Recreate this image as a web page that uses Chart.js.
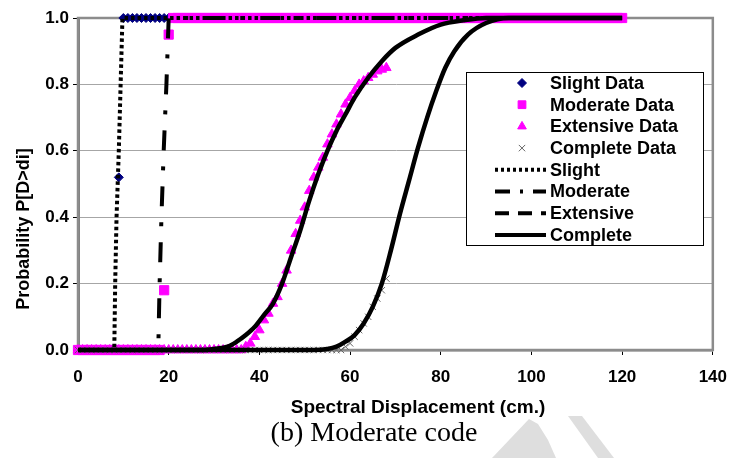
<!DOCTYPE html>
<html>
<head>
    <title>Fragility curves - Moderate code</title>
    <style type="text/css">
        body { margin: 0; background: #ffffff; }
        #chart-container { width: 739px; height: 458px; }
        #mycanvas { display: block; }
    </style>
</head>
<body>
    <div id="chart-container">
        <canvas id="mycanvas" width="739" height="458"></canvas>
    </div>

    <script type="text/javascript" src="https://cdn.jsdelivr.net/npm/chart.js@4.4.0/dist/chart.umd.min.js"></script>
    <script>
        // observed exceedance probabilities, one value per cm of displacement (starting at 0 cm)
        var slightData = [
            0, 0, 0, 0, 0, 0, 0, 0, 0, 0.52,
            1, 1, 1, 1, 1, 1, 1, 1, 1, 1, 1
        ];
        var moderateData = [
            0, 0, 0, 0, 0, 0, 0, 0, 0, 0,
            0, 0, 0, 0, 0, 0, 0, 0, 0, 0.18,
            0.95, 1, 1, 1, 1, 1, 1, 1, 1, 1,
            1, 1, 1, 1, 1, 1, 1, 1, 1, 1,
            1, 1, 1, 1, 1, 1, 1, 1, 1, 1,
            1, 1, 1, 1, 1, 1, 1, 1, 1, 1,
            1, 1, 1, 1, 1, 1, 1, 1, 1, 1,
            1, 1, 1, 1, 1, 1, 1, 1, 1, 1,
            1, 1, 1, 1, 1, 1, 1, 1, 1, 1,
            1, 1, 1, 1, 1, 1, 1, 1, 1, 1,
            1, 1, 1, 1, 1, 1, 1, 1, 1, 1,
            1, 1, 1, 1, 1, 1, 1, 1, 1, 1,
            1
        ];
        var extensiveData = [
            0, 0, 0, 0, 0, 0, 0, 0, 0, 0,
            0, 0, 0, 0, 0, 0, 0, 0, 0, 0,
            0, 0, 0, 0, 0, 0, 0, 0, 0, 0,
            0, 0, 0, 0, 0, 0, 0, 0.01, 0.02, 0.04,
            0.06, 0.09, 0.11, 0.14, 0.16, 0.20, 0.24, 0.30, 0.35, 0.39,
            0.43, 0.48, 0.52, 0.55, 0.58, 0.62, 0.65, 0.68, 0.71, 0.74,
            0.76, 0.78, 0.80, 0.81, 0.82, 0.83, 0.84, 0.845, 0.85
        ];
        var completeData = [
            0, 0, 0, 0, 0, 0, 0, 0, 0, 0,
            0, 0, 0, 0, 0, 0, 0, 0, 0, 0,
            0, 0, 0, 0, 0, 0, 0, 0, 0, 0,
            0, 0, 0, 0, 0, 0, 0, 0, 0, 0,
            0, 0, 0, 0, 0, 0, 0, 0, 0, 0,
            0, 0, 0, 0, 0, 0, 0, 0, 0, 0.01,
            0.02, 0.04, 0.06, 0.08, 0.10, 0.13, 0.155, 0.18, 0.215
        ];

        // fitted curves (cm, probability)
        var slightLineX = [0, 8.0, 8.2, 8.5, 9.0, 9.4, 9.8, 120];
        var slightLineY = [0, 0, 0.2, 0.4, 0.6, 0.8, 1, 1];
        var moderateLineX = [0, 17.7, 18.0, 18.4, 18.9, 19.5, 20.0, 120];
        var moderateLineY = [0, 0, 0.2, 0.4, 0.6, 0.8, 1, 1];
        var extensiveLineX = [0, 28, 30, 33, 35, 37, 39, 41, 43, 45, 47, 49, 51, 53, 55, 57, 59, 61, 64, 67, 70, 75, 80, 85, 90, 120];
        var extensiveLineY = [0, 0, 0.003, 0.01, 0.025, 0.045, 0.07, 0.105, 0.14, 0.20, 0.28, 0.36, 0.45, 0.53, 0.60, 0.66, 0.71, 0.76, 0.82, 0.87, 0.91, 0.95, 0.98, 0.993, 1, 1];
        var completeLineX = [0, 52, 55, 57, 59, 61, 63, 65, 67, 69, 71, 73, 75, 77, 79, 81, 83, 86, 90, 95, 120];
        var completeLineY = [0, 0, 0.003, 0.01, 0.025, 0.045, 0.08, 0.13, 0.2, 0.3, 0.41, 0.51, 0.61, 0.7, 0.78, 0.85, 0.9, 0.95, 0.985, 1, 1];

        var xTicks = [0, 20, 40, 60, 80, 100, 120, 140];
        var yTicks = [0, 0.2, 0.4, 0.6, 0.8, 1.0];

        var seriesLabels = ["Slight Data", "Moderate Data", "Extensive Data", "Complete Data",
                            "Slight", "Moderate", "Extensive", "Complete"];
        var legendDash = [null, null, null, null, [3, 3], [15, 10, 3, 10], [14, 9], []];
        var legendRadius = [4.5, 5.5, 5, 4.5];

        var FONT = "'Liberation Sans', Arial, sans-serif";

        function perCm(ys) {
            return ys.map(function (y, i) { return { x: i, y: y }; });
        }
        function pairUp(xs, ys) {
            return xs.map(function (x, i) { return { x: x, y: ys[i] }; });
        }

        var chartdata = {
            datasets: [
                {
                    label: seriesLabels[0], data: perCm(slightData), order: 8, clip: false,
                    pointStyle: "rectRot", pointRadius: 4.5,
                    backgroundColor: "#000080", borderColor: "#000080", pointBorderWidth: 1
                },
                {
                    label: seriesLabels[1], data: perCm(moderateData), order: 7, clip: false,
                    pointStyle: "rect", pointRadius: 6.5,
                    backgroundColor: "#ff00ff", borderColor: "#ff00ff", pointBorderWidth: 1
                },
                {
                    label: seriesLabels[2], data: perCm(extensiveData), order: 6, clip: false,
                    pointStyle: "triangle", pointRadius: 5.5,
                    backgroundColor: "#ff00ff", borderColor: "#ff00ff", pointBorderWidth: 1
                },
                {
                    label: seriesLabels[3], data: perCm(completeData), order: 5, clip: false,
                    pointStyle: "crossRot", pointRadius: 4.5,
                    backgroundColor: "#666666", borderColor: "#666666", pointBorderWidth: 1
                },
                {
                    label: seriesLabels[4], data: pairUp(slightLineX, slightLineY), order: 4, clip: false,
                    showLine: true, pointRadius: 0, borderColor: "#000000",
                    borderWidth: 4, borderDash: [3.5, 3], tension: 0
                },
                {
                    label: seriesLabels[5], data: pairUp(moderateLineX, moderateLineY), order: 3, clip: false,
                    showLine: true, pointRadius: 0, borderColor: "#000000",
                    borderWidth: 4, borderDash: [20, 16, 4, 16], tension: 0
                },
                {
                    label: seriesLabels[6], data: pairUp(extensiveLineX, extensiveLineY), order: 2, clip: false,
                    showLine: true, pointRadius: 0, borderColor: "#000000",
                    borderWidth: 4.5, cubicInterpolationMode: "monotone"
                },
                {
                    label: seriesLabels[7], data: pairUp(completeLineX, completeLineY), order: 1, clip: false,
                    showLine: true, pointRadius: 0, borderColor: "#000000",
                    borderWidth: 4.5, cubicInterpolationMode: "monotone"
                }
            ]
        };

        // grey frame around the plot area
        var framePlugin = {
            id: "frame",
            beforeDatasetsDraw: function (chart) {
                var a = chart.chartArea, ctx = chart.ctx;
                ctx.save();
                ctx.strokeStyle = "#8c8c8c";
                ctx.lineWidth = 2.5;
                ctx.strokeRect(a.left, a.top, a.right - a.left, a.bottom - a.top);
                ctx.restore();
            }
        };

        // legend box inside the plot, titles, caption
        var decorPlugin = {
            id: "decor",
            afterDraw: function (chart) {
                var ctx = chart.ctx;
                ctx.save();

                // faint watermark shapes bottom right
                ctx.fillStyle = "#dedede";
                ctx.beginPath();
                ctx.moveTo(529, 419); ctx.lineTo(538, 424); ctx.lineTo(548, 440);
                ctx.lineTo(556, 458); ctx.lineTo(492, 458); ctx.closePath(); ctx.fill();
                ctx.beginPath();
                ctx.moveTo(568, 416); ctx.lineTo(582, 416); ctx.lineTo(614, 458);
                ctx.lineTo(598, 458); ctx.closePath(); ctx.fill();

                // legend
                var bx = 466, by = 72, bw = 237, bh = 173;
                ctx.fillStyle = "#ffffff";
                ctx.fillRect(bx, by, bw, bh);
                ctx.strokeStyle = "#000000";
                ctx.lineWidth = 1;
                ctx.strokeRect(bx + 0.5, by + 0.5, bw, bh);

                ctx.font = "bold 18px " + FONT;
                ctx.textBaseline = "middle";
                ctx.textAlign = "left";
                chart.data.datasets.forEach(function (ds, i) {
                    var y = 83 + i * 21.7;
                    if (ds.showLine) {
                        ctx.strokeStyle = "#000000";
                        ctx.lineWidth = 4;
                        ctx.setLineDash(legendDash[i]);
                        ctx.beginPath();
                        ctx.moveTo(495, y); ctx.lineTo(546, y);
                        ctx.stroke();
                        ctx.setLineDash([]);
                    } else {
                        ctx.fillStyle = ds.backgroundColor;
                        ctx.strokeStyle = ds.borderColor;
                        ctx.lineWidth = 1;
                        Chart.helpers.drawPoint(ctx, {
                            pointStyle: ds.pointStyle, radius: legendRadius[i],
                            rotation: 0, borderWidth: 1
                        }, 522, y);
                    }
                    ctx.fillStyle = "#000000";
                    ctx.fillText(ds.label, 550, y + 1);
                });

                // axis titles
                ctx.font = "bold 19px " + FONT;
                ctx.textAlign = "center";
                ctx.fillText("Spectral Displacement (cm.)", 418, 408);

                ctx.save();
                ctx.translate(24, 229);
                ctx.rotate(-Math.PI / 2);
                ctx.font = "bold 18px " + FONT;
                ctx.fillText("Probability P[D>di]", 0, 0);
                ctx.restore();

                // caption
                ctx.font = "28px 'Liberation Serif', 'Times New Roman', serif";
                ctx.fillText("(b) Moderate code", 374, 434);
                ctx.restore();
            }
        };

        var ctx = document.getElementById("mycanvas");

        var fragilityChart = new Chart(ctx, {
            type: "scatter",
            data: chartdata,
            plugins: [framePlugin, decorPlugin],
            options: {
                responsive: false,
                animation: false,
                devicePixelRatio: 1,
                layout: { padding: { left: 0, right: 17, top: 18, bottom: 0 } },
                plugins: {
                    legend: { display: false },
                    tooltip: { enabled: false }
                },
                scales: {
                    x: {
                        type: "linear",
                        min: xTicks[0],
                        max: xTicks[xTicks.length - 1],
                        afterFit: function (scale) { scale.height = 108; },
                        afterBuildTicks: function (scale) {
                            scale.ticks = xTicks.map(function (v) { return { value: v }; });
                        },
                        ticks: {
                            color: "#000000",
                            font: { family: FONT, size: 17, weight: "bold" },
                            padding: 12,
                            maxRotation: 0
                        },
                        grid: {
                            drawOnChartArea: false,
                            tickLength: 5,
                            tickColor: "#000000"
                        },
                        border: { color: "#808080", width: 2.5 }
                    },
                    y: {
                        min: yTicks[0],
                        max: yTicks[yTicks.length - 1],
                        afterFit: function (scale) { scale.width = 78; },
                        afterBuildTicks: function (scale) {
                            scale.ticks = yTicks.map(function (v) { return { value: v }; });
                        },
                        ticks: {
                            color: "#000000",
                            font: { family: FONT, size: 17, weight: "bold" },
                            padding: 4,
                            callback: function (value) { return Number(value).toFixed(1); }
                        },
                        grid: {
                            color: "#a6a6a6",
                            lineWidth: 1,
                            tickLength: 5,
                            tickColor: "#000000"
                        },
                        border: { color: "#808080", width: 3 }
                    }
                }
            }
        });
    </script>
</body>
</html>
